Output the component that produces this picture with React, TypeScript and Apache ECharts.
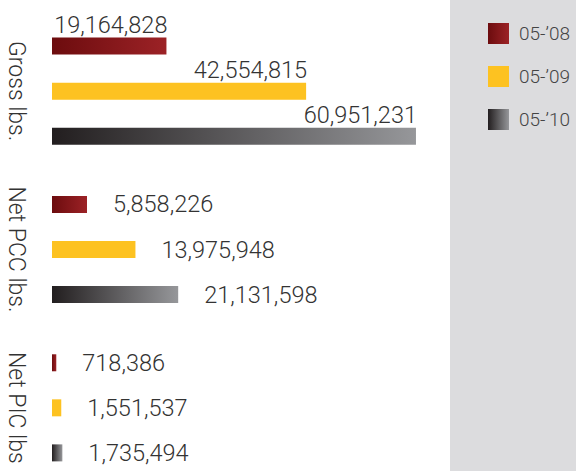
import React, { useEffect, useRef } from "react";
import * as echarts from "echarts";

const categories = ["Gross lbs.", "Net PCC lbs.", "Net PIC lbs"];
const seriesNames = ["05-\u201908", "05-\u201909", "05-\u201910"];
const values2008 = [19164828, 5858226, 718386];
const values2009 = [42554815, 13975948, 1551537];
const values2010 = [60951231, 21131598, 1735494];

const FONT = "Roboto, 'Open Sans', 'Liberation Sans', sans-serif";

export default function App() {
  const ref = useRef<HTMLDivElement>(null);

  useEffect(() => {
    document.body.style.margin = "0";
    if (!ref.current) return;
    const chart = echarts.init(ref.current, undefined, { renderer: "svg" });

    const colors = [
      new echarts.graphic.LinearGradient(0, 0, 1, 0, [
        { offset: 0, color: "#6c0c0e" },
        { offset: 1, color: "#9c2226" },
      ]),
      "#fdc221",
      new echarts.graphic.LinearGradient(0, 0, 1, 0, [
        { offset: 0, color: "#221e1f" },
        { offset: 1, color: "#96979a" },
      ]),
    ];

    const allValues = [values2008, values2009, values2010];

    const makeData = (vals: number[]) =>
      vals.map((v, i) =>
        i === 0
          ? {
              value: v,
              label: {
                position: "insideTopRight",
                distance: 0,
                verticalAlign: "bottom",
                offset: [1, -1],
              },
            }
          : v
      );

    const series = allValues.map((vals, si) => ({
      name: seriesNames[si],
      type: "bar",
      barWidth: 17,
      barGap: "165%",
      itemStyle: { color: colors[si] },
      label: {
        show: true,
        position: "right",
        distance: 26,
        fontSize: 23.5,
        fontFamily: FONT,
        fontWeight: 300,
        color: "#333333",
        formatter: (p: any) => Number(p.value).toLocaleString("en-US"),
      },
      data: makeData(vals),
    }));

    chart.setOption({
      animation: false,
      backgroundColor: "#ffffff",
      graphic: [
        {
          type: "rect",
          left: 450,
          top: 0,
          shape: { width: 126, height: 471 },
          style: { fill: "#dcdcde" },
          silent: true,
          z: 0,
        },
      ],
      legend: {
        orient: "vertical",
        left: 483,
        top: 18,
        itemWidth: 21,
        itemHeight: 21,
        itemGap: 22,
        icon: "rect",
        textStyle: {
          fontSize: 19,
          fontFamily: FONT,
          fontWeight: 300,
          color: "#444444",
          padding: [0, 0, 0, 5],
        },
        data: seriesNames,
      },
      grid: {
        left: 52,
        top: 12,
        width: 418,
        height: 475,
        containLabel: false,
        outerBoundsMode: "none",
      },
      xAxis: {
        type: "value",
        min: 0,
        max: 70000000,
        show: false,
      },
      yAxis: {
        type: "category",
        inverse: true,
        data: categories,
        axisLine: { show: false },
        axisTick: { show: false },
        splitLine: { show: false },
        axisLabel: {
          interval: 0,
          hideOverlap: false,
          rotate: -90,
          margin: 24,
          fontSize: 23,
          fontFamily: FONT,
          fontWeight: 300,
          color: "#333333",
        },
      },
      series,
    });

    return () => chart.dispose();
  }, []);

  return <div ref={ref} style={{ width: 576, height: 471 }} />;
}
